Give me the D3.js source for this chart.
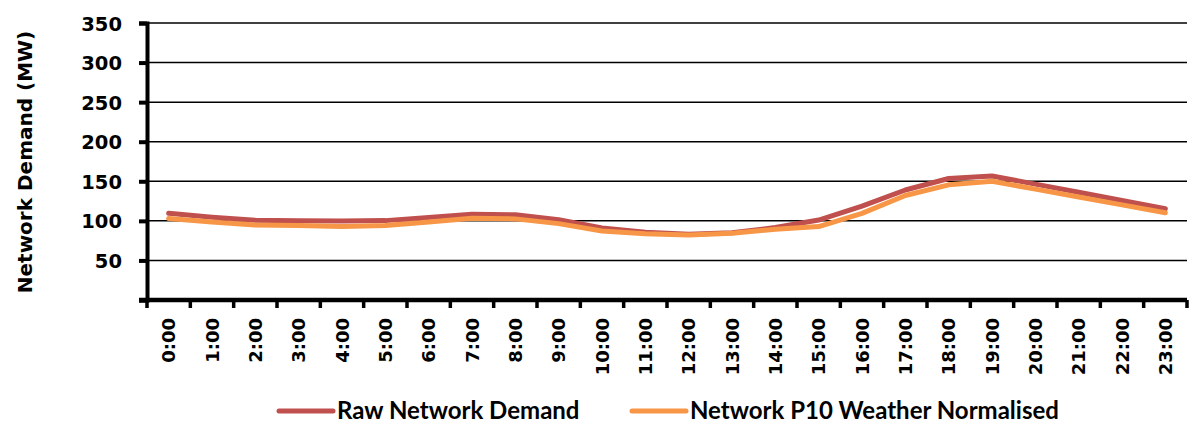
<!DOCTYPE html>
<html>
<head>
<meta charset="utf-8">
<script src="https://cdn.jsdelivr.net/npm/d3@7/dist/d3.min.js"></script>
<style>
  html, body { margin: 0; padding: 0; background: #fff; }
  svg { display: block; }
  .y-label { font-family: "DejaVu Sans", Verdana, sans-serif; font-weight: bold; font-size: 19.5px; fill: #000; }
  .x-label { font-family: "DejaVu Sans", Verdana, sans-serif; font-weight: bold; font-size: 18px; fill: #000; }
  .axis-title { font-family: "DejaVu Sans", Verdana, sans-serif; font-weight: bold; font-size: 20px; fill: #000; }
  .legend-text { font-family: Lato, "Open Sans", sans-serif; font-weight: bold; font-size: 24px; fill: #000; }
</style>
</head>
<body>
<svg id="chart" width="1189" height="423"></svg>
<script>
// Hourly network demand profile (MW)
const hours = ["0:00","1:00","2:00","3:00","4:00","5:00","6:00","7:00","8:00","9:00","10:00","11:00",
               "12:00","13:00","14:00","15:00","16:00","17:00","18:00","19:00","20:00","21:00","22:00","23:00"];
const rawDemand = [109.5, 104.5, 100.7, 100.2, 99.8, 100.3, 104.2, 108.3, 107.6, 101.5, 91.0, 85.5,
                   83.0, 85.0, 91.5, 101.0, 118.5, 139.0, 153.5, 156.7, 146.4, 136.1, 125.7, 115.4];
const p10Normalised = [103.0, 98.5, 94.8, 94.0, 93.0, 94.0, 98.5, 103.2, 102.5, 96.5, 87.2, 83.8,
                       82.2, 84.3, 89.3, 92.8, 109.5, 132.0, 145.5, 150.0, 140.1, 130.2, 120.2, 110.3];
const yTicks = [50, 100, 150, 200, 250, 300, 350];
const seriesNames = ["Raw Network Demand", "Network P10 Weather Normalised"];
const seriesColors = ["#C0504D", "#F79646"];

const svg = d3.select("#chart");
const plot = { left: 147, right: 1187, top: 23, bottom: 300 };

const x = d3.scaleBand().domain(hours).range([plot.left, plot.right]).paddingInner(0).paddingOuter(0);
const y = d3.scaleLinear().domain([0, 350]).range([plot.bottom, plot.top]);

// Horizontal gridlines
svg.append("g")
  .selectAll("line")
  .data(yTicks)
  .join("line")
  .attr("x1", plot.left)
  .attr("x2", plot.right)
  .attr("y1", d => y(d))
  .attr("y2", d => y(d))
  .attr("stroke", "#000")
  .attr("stroke-width", 1.5);

// Y axis
const yAxis = svg.append("g")
  .attr("transform", `translate(${plot.left},0)`)
  .call(d3.axisLeft(y).tickValues([0, ...yTicks]).tickSize(8).tickPadding(17).tickFormat(d => d === 0 ? "" : d));
yAxis.select(".domain").attr("stroke", "#000").attr("stroke-width", 4);
yAxis.selectAll(".tick line").attr("stroke", "#000").attr("stroke-width", 4);
yAxis.selectAll(".tick text").attr("class", "y-label").attr("dy", "0.36em");

// X axis with ticks at band boundaries
const xAxisG = svg.append("g").attr("transform", `translate(0,${plot.bottom})`);
xAxisG.append("line")
  .attr("x1", plot.left - 8).attr("x2", plot.right)
  .attr("y1", 0).attr("y2", 0)
  .attr("stroke", "#000").attr("stroke-width", 4.5);
const boundaries = hours.map(h => x(h)).concat([x(hours[hours.length - 1]) + x.bandwidth()]);
xAxisG.selectAll("line.xtick")
  .data(boundaries)
  .join("line")
  .attr("class", "xtick")
  .attr("x1", d => d).attr("x2", d => d)
  .attr("y1", 0).attr("y2", 8)
  .attr("stroke", "#000").attr("stroke-width", 3.5);
xAxisG.selectAll("text")
  .data(hours)
  .join("text")
  .attr("class", "x-label")
  .attr("transform", d => `translate(${x(d) + x.bandwidth() / 2 + 6.5},18) rotate(-90)`)
  .attr("text-anchor", "end")
  .text(d => d);

// Y axis title
svg.append("text")
  .attr("class", "axis-title")
  .attr("transform", `translate(32,162) rotate(-90)`)
  .attr("text-anchor", "middle")
  .text("Network Demand (MW)");

// Series lines
const line = d3.line()
  .x((d, i) => x(hours[i]) + x.bandwidth() / 2)
  .y(d => y(d));

[rawDemand, p10Normalised].forEach((values, i) => {
  svg.append("path")
    .datum(values)
    .attr("d", line)
    .attr("fill", "none")
    .attr("stroke", seriesColors[i])
    .attr("stroke-width", 5)
    .attr("stroke-linejoin", "round")
    .attr("stroke-linecap", "round");
});

// Legend
const legendItems = [{ x: 279 }, { x: 632 }];
const legendY = 411;
legendItems.forEach((item, i) => {
  const g = svg.append("g").attr("transform", `translate(${item.x},${legendY})`);
  g.append("line")
    .attr("x1", 0).attr("x2", 54)
    .attr("y1", 0).attr("y2", 0)
    .attr("stroke", seriesColors[i])
    .attr("stroke-width", 5)
    .attr("stroke-linecap", "round");
  g.append("text")
    .attr("class", "legend-text")
    .attr("x", 58)
    .attr("y", 0)
    .attr("dy", "0.35em")
    .text(seriesNames[i]);
});
</script>
</body>
</html>
